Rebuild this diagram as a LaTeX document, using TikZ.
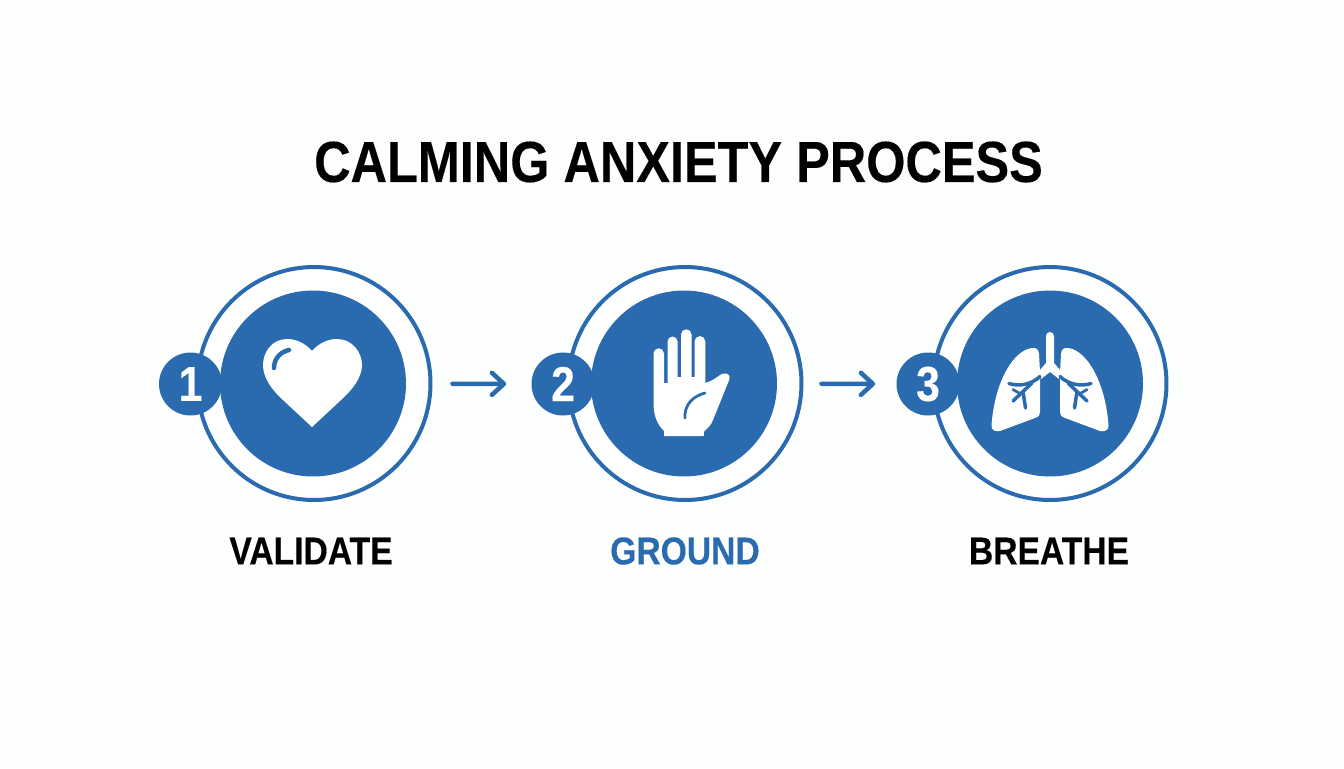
\documentclass[tikz,border=0pt]{standalone}
\usepackage{fontspec}
\setmainfont[FakeStretch=0.87,BoldFeatures={FakeBold=0.25}]{Liberation Sans}
\definecolor{calmblue}{HTML}{2A6AAE}
\definecolor{paper}{HTML}{FDFEFE}
\usetikzlibrary{arrows.meta}

\begin{document}
\begin{tikzpicture}[x=0.02cm,y=-0.02cm]
            \tikzstyle{ring}=[circle,line width=0.08cm,draw=calmblue,fill=white,inner sep=0pt,minimum size=4.66cm]
            \tikzstyle{disc}=[circle,fill=calmblue,inner sep=0pt,minimum size=3.72cm]
            \tikzstyle{badge}=[circle,fill=calmblue,text=white,inner sep=0pt,minimum size=1.26cm,font=\fontsize{28}{28}\selectfont\bfseries]
            \tikzstyle{caption}=[font=\fontsize{22}{22}\selectfont\bfseries]
            \tikzstyle{flow}=[line width=0.09cm,draw=calmblue,line cap=round,-{Straight Barb[length=0.24cm,width=0.44cm,line width=0.09cm,round]}]
            \tikzstyle{icon}=[fill=white]
            \tikzstyle{cut}=[draw=calmblue,line cap=round,line join=round,line width=0.055cm]
            \fill[paper] (0,0) rectangle (1344,768);
            \useasboundingbox (0,0) rectangle (1344,768);
            \node (title) at (678.5,162) {\fontsize{33}{33}\selectfont\bfseries CALMING ANXIETY PROCESS};
            \node[ring] (ring1) at (314,383.5) {};
            \node[disc] (disc1) at (313,383.5) {};
            \node[badge] (badge1) at (190.5,384) {1};
            \node[caption] (label1) at (311,551) {VALIDATE};
            \node[ring] (ring2) at (685,383.5) {};
            \node[disc] (disc2) at (684,383.5) {};
            \node[badge] (badge2) at (563,384) {2};
            \node[caption,text=calmblue] (label2) at (685,551) {GROUND};
            \node[ring] (ring3) at (1050,383.5) {};
            \node[disc] (disc3) at (1050,383.5) {};
            \node[badge] (badge3) at (928,384) {3};
            \node[caption] (label3) at (1049,551) {BREATHE};
            \draw[flow,shorten <=0.4cm,shorten >=0.5cm] (ring1) -- (badge2);
            \draw[flow,shorten <=0.36cm,shorten >=0.42cm] (ring2) -- (badge3);
            % heart
            \fill[icon] (312,351) .. controls (305,343) and (296,339) .. (287,339)
                .. controls (272,339) and (263,352) .. (263,365)
                .. controls (263,378) and (272,390) .. (283,400) -- (312,427) -- (341,400)
                .. controls (352,390) and (362,378) .. (362,365)
                .. controls (362,352) and (352,339) .. (337,339)
                .. controls (328,339) and (319,343) .. (312,351) -- cycle;
            \draw[cut,line width=0.09cm] (274,368) .. controls (274,359) and (280,352) .. (289,350);
            % hand
            \fill[icon] (664,436) -- (664,431) .. controls (657,424) and (654,416) .. (653.5,405)
                -- (653.5,353.5) arc (180:360:5.25) -- (664,383) -- (667.5,383)
                -- (667.5,341.5) arc (180:360:5) -- (677.5,377) -- (681,377)
                -- (681,334.5) arc (180:360:5.25) -- (691.5,377) -- (694.5,377)
                -- (694.5,341.5) arc (180:360:5.4) -- (705.3,383)
                .. controls (712,381) and (716,378) .. (720,375)
                .. controls (724,372) and (731,373) .. (729.5,379)
                -- (713,420) .. controls (711,425) and (708,428) .. (704,431.5) -- (703.7,436) -- cycle;
            \draw[cut] (685,418) .. controls (684,405) and (693,396) .. (705,393);
            % lungs
            \fill[icon] (1046,336) arc (180:360:4) -- (1054,363) -- (1061,371) -- (1059,379) -- (1050,372) -- (1041,379) -- (1039,371) -- (1046,363) -- cycle;
            \foreach \side in {1,-1} {
                \begin{scope}[shift={(1050,0)},xscale=\side]
                    \fill[icon] (-10,372) -- (-11,354) .. controls (-11.5,349) and (-14,347.5) .. (-18,348)
                        .. controls (-36,350) and (-55,380) .. (-58.5,425)
                        .. controls (-59,430) and (-55,432) .. (-50,431) -- (-15,418)
                        .. controls (-11,416.5) and (-10,415) .. (-10,412) -- cycle;
                    \draw[cut,line width=0.07cm] (-10,376.5) .. controls (-18,384) and (-30,387) .. (-41,383.5);
                    \draw[cut,line width=0.07cm] (-18,383) -- (-37,401);
                    \draw[cut,line width=0.07cm] (-27,391.5) -- (-24.5,408);
                    \draw[cut] (-37,389.5) -- (-31,393);
                \end{scope}
            }
        \end{tikzpicture}
\end{document}
